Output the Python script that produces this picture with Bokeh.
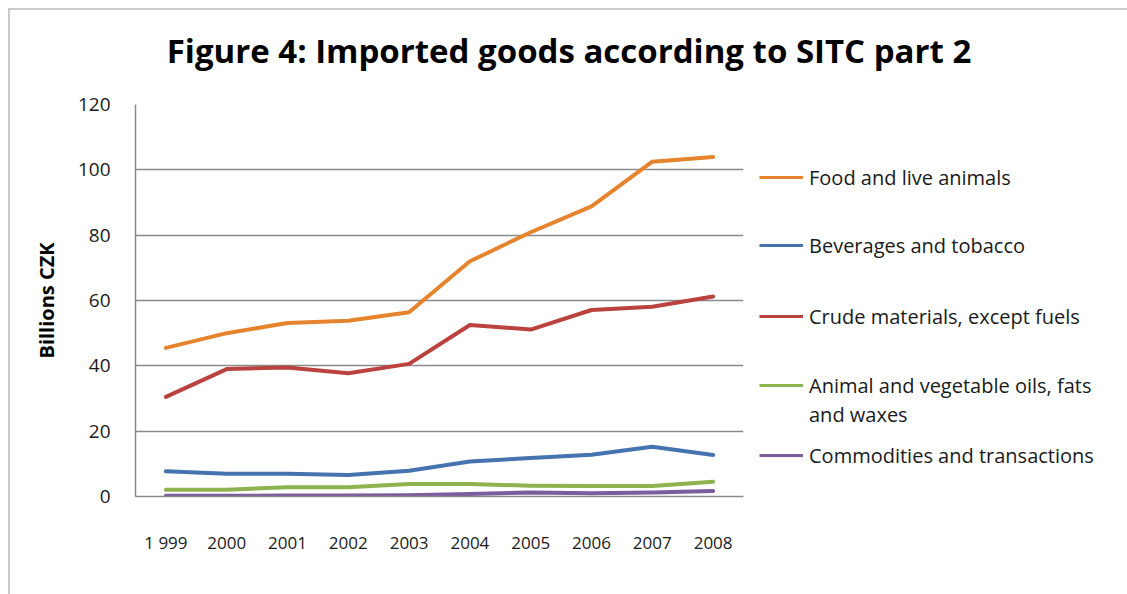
from bokeh.plotting import figure
from bokeh.models import Range1d, Legend, LegendItem, FixedTicker, FactorRange
from bokeh.layouts import column, row
from bokeh.embed import file_html
from bokeh.resources import INLINE

years = ["1 999", "2000", "2001", "2002", "2003", "2004", "2005", "2006", "2007", "2008"]
food = [45.5, 50.0, 53.1, 53.8, 56.4, 72.0, 80.9, 88.8, 102.5, 103.9]
beverages = [7.7, 7.0, 7.0, 6.6, 7.9, 10.7, 11.8, 12.8, 15.2, 12.7]
crude = [30.5, 39.0, 39.5, 37.7, 40.6, 52.5, 51.1, 57.1, 58.1, 61.2]
oils = [2.1, 2.1, 2.8, 2.8, 3.8, 3.8, 3.3, 3.2, 3.2, 4.5]
commodities = [0.2, 0.2, 0.3, 0.3, 0.4, 0.8, 1.2, 1.0, 1.2, 1.7]

labels = ["Food and live animals", "Beverages and tobacco", "Crude materials, except fuels",
          "Animal and vegetable oils, fats\nand waxes", "Commodities and transactions"]
colors = ["#E6842E", "#4473B0", "#BA423F", "#8DB24E", "#7B5C9C"]
series = [food, beverages, crude, oils, commodities]
y_ticks = [0, 20, 40, 60, 80, 100, 120]
title_text = "Figure 4: Imported goods according to SITC part 2"

FONT = "Open Sans"
TXT = "#1a1a1a"

# ---- title strip ----
pt = figure(width=1117, height=78, output_backend="svg", toolbar_location=None,
            x_axis_type=None, y_axis_type=None,
            min_border_left=0, min_border_right=0, min_border_top=67, min_border_bottom=0)
pt.title.text = title_text
pt.title.text_font = FONT
pt.title.text_font_size = "33px"
pt.title.text_font_style = "bold"
pt.title.text_color = "#000000"
pt.title.align = "center"
pt.title.standoff = 10
pt.outline_line_color = None
pt.grid.visible = False

# ---- main chart ----
p = figure(x_range=years, y_range=Range1d(0, 120), width=745, height=506,
           output_backend="svg", toolbar_location=None,
           min_border_left=125, min_border_right=12, min_border_top=16, min_border_bottom=98)
p.outline_line_color = None
p.xgrid.grid_line_color = None
p.ygrid.grid_line_color = "#8a8a8a"
p.ygrid.grid_line_width = 1.5

p.yaxis.ticker = FixedTicker(ticks=y_ticks)
p.yaxis.axis_line_color = "#8a8a8a"
p.yaxis.axis_line_width = 1.5
p.yaxis.major_tick_line_color = None
p.yaxis.minor_tick_line_color = None
p.yaxis.major_label_text_font = FONT
p.yaxis.major_label_text_font_size = "19px"
p.yaxis.major_label_text_color = TXT
p.yaxis.major_label_standoff = 19
p.yaxis.axis_label = "Billions CZK"
p.yaxis.axis_label_text_font = FONT
p.yaxis.axis_label_text_font_size = "20px"
p.yaxis.axis_label_text_font_style = "bold"
p.yaxis.axis_label_text_color = "#000000"
p.yaxis.axis_label_standoff = 15

p.xaxis.axis_line_color = "#8a8a8a"
p.xaxis.axis_line_width = 1.5
p.xaxis.major_tick_line_color = None
p.xaxis.minor_tick_line_color = None
p.xaxis.major_label_text_font = FONT
p.xaxis.major_label_text_font_size = "17px"
p.xaxis.major_label_text_color = TXT
p.xaxis.major_label_standoff = 28

for vals, col in zip(series, colors):
    p.line(x=years, y=vals, line_color=col, line_width=4, line_join="round", line_cap="round")

# ---- legend panel (proxies drawn out of view, only their legend glyphs show) ----
pl = figure(width=372, height=506, output_backend="svg", toolbar_location=None,
            x_axis_type=None, y_axis_type=None,
            x_range=FactorRange(*years), y_range=Range1d(1000, 1001),
            min_border_left=0, min_border_right=0, min_border_top=16, min_border_bottom=98)
pl.outline_line_color = None
pl.grid.visible = False

# bottom offset (px above the plot frame's bottom) of each entry's first line
leg_y = [305, 237, 166, 97, 27]
LINE_STEP = 29
for lab, vals, col, y0 in zip(labels, series, colors, leg_y):
    for k, part in enumerate(lab.split("\n")):
        alpha = 1.0 if k == 0 else 0.0
        r = pl.line(x=years, y=vals, line_color=col, line_width=3, line_alpha=alpha)
        lg = Legend(items=[LegendItem(label=part, renderers=[r])],
                    location=(4, y0 - k * LINE_STEP),
                    padding=0, margin=0, spacing=0, border_line_alpha=0,
                    background_fill_alpha=0, glyph_width=44, glyph_height=28,
                    label_height=28, label_standoff=6,
                    label_text_font=FONT, label_text_font_size="20px",
                    label_text_color=TXT)
        pl.add_layout(lg, "center")

layout = column(pt, row(p, pl, spacing=0), spacing=0)
layout.styles = {"margin-left": "8px", "margin-top": "8px",
                 "border-left": "2px solid #cacaca", "border-top": "2px solid #cacaca"}

open("out.html", "w").write(file_html(layout, INLINE))
